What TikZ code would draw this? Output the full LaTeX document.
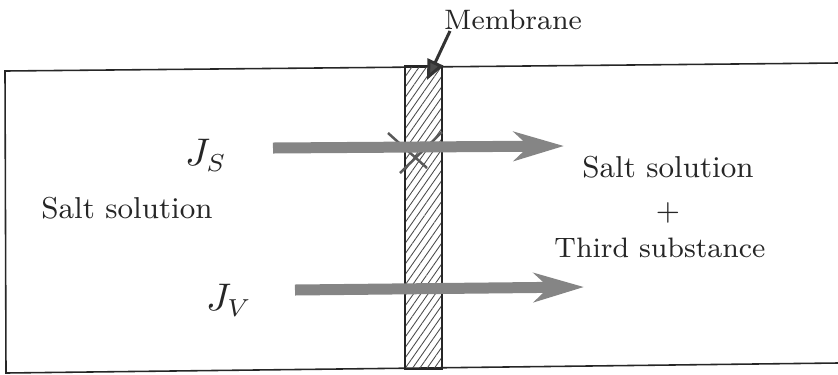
\documentclass[tikz,border=0pt]{standalone}
\usetikzlibrary{arrows.meta,patterns.meta}
\begin{document}
\begin{tikzpicture}[x=0.1mm,y=-0.1mm,
  frame/.style={line width=0.45pt,draw=black!85},
  flux/.style={line width=1.1mm,draw=black!48,-{Stealth[length=5mm,width=2.9mm,inset=1.5mm,fill=black!48]}},
  lbl/.style={inner sep=0pt,font=\fontsize{8.6}{10}\selectfont,text=black!85},
  lblsmall/.style={inner sep=0pt,font=\fontsize{8}{10}\selectfont,text=black!85},
  sym/.style={inner sep=0pt,font=\fontsize{10.5}{12}\selectfont,text=black!85},
  crossmark/.style={line width=0.25mm,draw=black!65}]
\useasboundingbox (0,0) rectangle (838,374);
% container (slightly tilted scan)
\coordinate (tl) at (5,71);
\coordinate (tr) at (838,63);
\coordinate (bl) at (6,373);
\coordinate (br) at (838,363);
\draw[frame] (tr) -- (tl) -- (bl) -- (br);
% membrane
\coordinate (m1) at (405,66);
\coordinate (m2) at (442,369);
\fill[pattern={Lines[angle=55,distance=1.7pt,line width=0.25pt]},pattern color=black!70] (m1) rectangle (m2);
\draw[frame] (m1) rectangle (m2);
% cross mark
\coordinate (xa1) at (388,133);
\coordinate (xa2) at (427,168);
\coordinate (xb1) at (400,173);
\coordinate (xb2) at (442,132);
\draw[crossmark] (xa1) -- (xa2);
\draw[crossmark] (xb1) -- (xb2);
% fluxes
\coordinate (js0) at (273,148);
\coordinate (js1) at (564,146);
\coordinate (jv0) at (295,290);
\coordinate (jv1) at (584,287);
\draw[flux] (js0) -- (js1);
\draw[flux] (jv0) -- (jv1);
% labels
\node[sym] (Js) at (206,155) {$J_S$};
\node[sym] (Jv) at (229,300) {$J_V$};
\node[lbl] (left) at (127,208) {Salt solution};
\node[lbl] (right1) at (668,167) {Salt solution};
\node[lbl] (plus) at (668,213) {+};
\node[lblsmall] (right2) at (660,248) {Third substance};
\node[lblsmall] (mem) at (513,20) {Membrane};
\coordinate (ml0) at (450,31);
\coordinate (ml1) at (427,80);
\draw[line width=0.3mm,draw=black!80,-{Triangle[length=2mm,width=1.7mm,fill=black!70]}] (ml0) -- (ml1);
\end{tikzpicture}
\end{document}
